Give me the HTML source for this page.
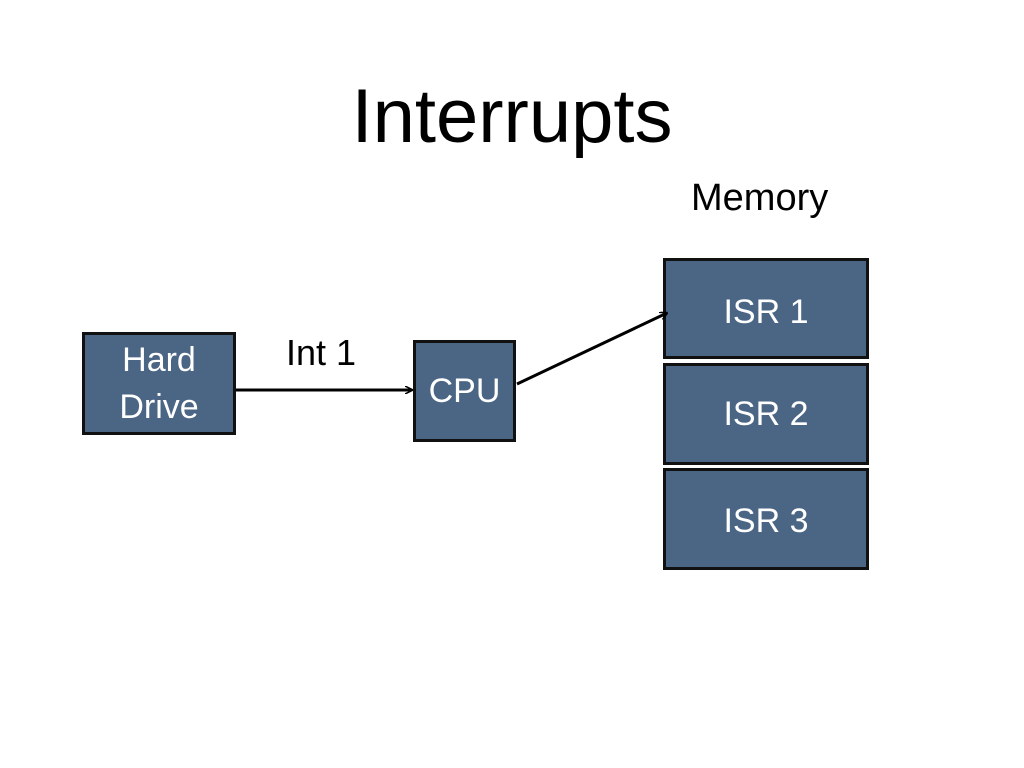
<!DOCTYPE html>
<html><head><meta charset="utf-8"><style>
body{margin:0;width:1024px;height:768px;background:#fff;position:relative;overflow:hidden;font-family:"Liberation Sans",sans-serif}
.t{position:absolute;white-space:nowrap}
.b{position:absolute;box-sizing:border-box;border:3px solid #111;background:#4b6585;color:#fff;display:flex;align-items:center;justify-content:center;text-align:center;font-size:34px;line-height:47px}
</style></head><body>
<div class="t" style="left:0;width:1024px;text-align:center;top:72px;font-size:76px;line-height:90px;color:#000">Interrupts</div>
<div class="t" style="left:691px;top:176px;font-size:38px;line-height:44px">Memory</div>
<div class="t" style="left:286px;top:332px;font-size:36px;line-height:42px">Int 1</div>
<div class="b" style="left:82px;top:332px;width:154px;height:103px">Hard<br>Drive</div>
<div class="b" style="left:413px;top:340px;width:103px;height:102px">CPU</div>
<div class="b" style="left:663px;top:258px;width:206px;height:101px;align-items:flex-start;padding-top:28px">ISR 1</div>
<div class="b" style="left:663px;top:363px;width:206px;height:102px">ISR 2</div>
<div class="b" style="left:663px;top:468px;width:206px;height:102px;align-items:flex-start;padding-top:27px">ISR 3</div>
<svg style="position:absolute;left:0;top:0" width="1024" height="768">
<defs><marker id="a" markerWidth="8" markerHeight="8" refX="7" refY="4" orient="auto" markerUnits="userSpaceOnUse"><path d="M0,0 L8,4 L0,8" fill="none" stroke="#000" stroke-width="1.5"/></marker></defs>
<line x1="236" y1="390" x2="412" y2="390" stroke="#000" stroke-width="3" marker-end="url(#a)"/>
<line x1="517" y1="384" x2="667" y2="313" stroke="#000" stroke-width="3" marker-end="url(#a)"/>
</svg>
</body></html>
